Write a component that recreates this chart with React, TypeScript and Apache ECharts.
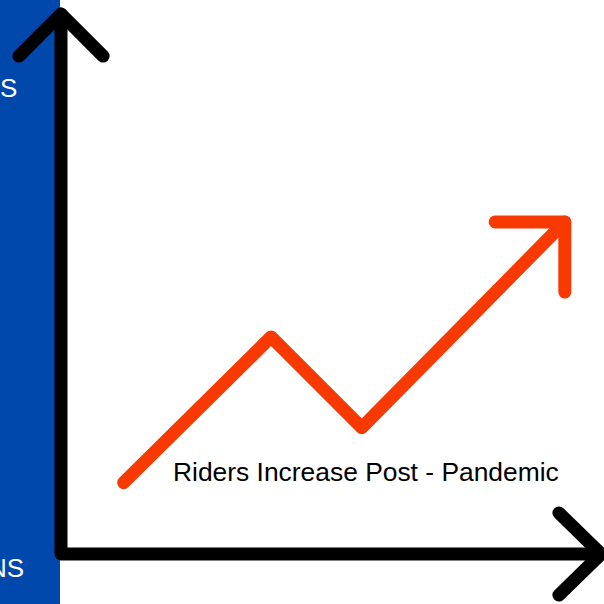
import React, { useEffect, useRef } from "react";
import * as echarts from "echarts";

// Trend line (abstract units; axis origin at 0,0, axis length 100)
const trendX = [11.6, 38.9, 55.7, 93.3];
const trendY = [13.2, 40.2, 23.4, 61.5];
// Trend arrowhead arms (left arm end, corner, lower arm end)
const headX = [80.4, 93.3, 93.3];
const headY = [61.5, 61.5, 48.5];
// Axis lines
const axisX = [0, 0, 100];
const axisY = [100, 0, 0];
// Axis arrowheads
const yHeadX = [-7.8, 0, 7.8];
const yHeadY = [92.2, 100, 92.2];
const xHeadX = [92.2, 100, 92.2];
const xHeadY = [7.6, 0, -7.6];

const caption = "Riders Increase Post - Pandemic";
const sideTop = "S";
const sideBottom = "NS";

const zip = (xs: number[], ys: number[]) => xs.map((x, i) => [x, ys[i]]);

export default function App() {
  const ref = useRef<HTMLDivElement>(null);
  useEffect(() => {
    if (!ref.current) return;
    const chart = echarts.init(ref.current, undefined, { renderer: "svg" });
    const lineSeries = (data: number[][], color: string) => ({
      type: "line",
      data,
      symbol: "none",
      silent: true,
      clip: false,
      z: 3,
      lineStyle: { color, width: 13, cap: "round", join: "round" },
    });
    chart.setOption({
      animation: false,
      backgroundColor: "#ffffff",
      grid: { left: 0, right: 0, top: 0, bottom: 0 },
      xAxis: { type: "value", min: -61 / 5.4, max: 543 / 5.4, show: false },
      yAxis: { type: "value", min: -50 / 5.4, max: 554 / 5.4, show: false },
      graphic: [
        { type: "rect", z: 0, shape: { x: 0, y: 0, width: 60, height: 604 }, style: { fill: "#0048AB" } },
        {
          type: "text", z: 1, x: 0, y: 88,
          style: { text: sideTop, fill: "#ffffff", font: "26px 'Liberation Sans', Arial, sans-serif", textVerticalAlign: "middle" },
        },
        {
          type: "text", z: 1, x: -12, y: 568,
          style: { text: sideBottom, fill: "#ffffff", font: "26px 'Liberation Sans', Arial, sans-serif", textVerticalAlign: "middle" },
        },
        {
          type: "text", z: 5, x: 173, y: 472,
          style: { text: caption, fill: "#000000", font: "26.4px 'Liberation Sans', Arial, sans-serif", textVerticalAlign: "middle" },
        },
      ],
      series: [
        lineSeries(zip(axisX, axisY), "#000000"),
        lineSeries(zip(yHeadX, yHeadY), "#000000"),
        lineSeries(zip(xHeadX, xHeadY), "#000000"),
        lineSeries(zip(trendX, trendY), "#F83A02"),
        lineSeries(zip(headX, headY), "#F83A02"),
      ],
    });
    return () => chart.dispose();
  }, []);
  return (
    <div
      ref={ref}
      style={{ position: "fixed", left: 0, top: 0, width: 604, height: 604 }}
    />
  );
}
